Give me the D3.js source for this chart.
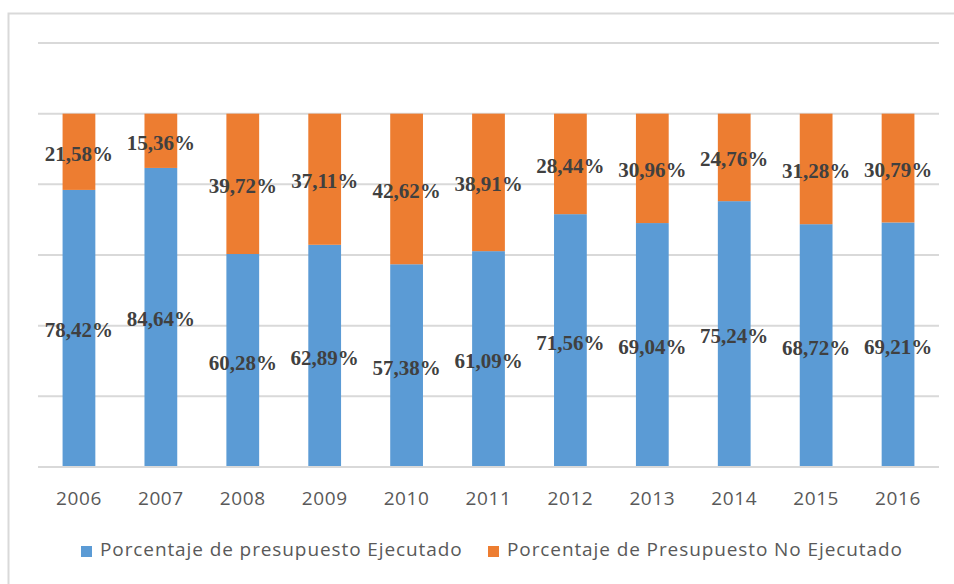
<html>
<head>
<style>
  body { margin: 0; background: #fff; }
</style>
</head>
<body>
    <svg id="container" width="954" height="584"></svg>
</body>
<script src="https://cdn.jsdelivr.net/npm/d3@7"></script>
<script>
    let years = ["2006", "2007", "2008", "2009", "2010", "2011", "2012", "2013", "2014", "2015", "2016"]
    let ejecutado = [78.42, 84.64, 60.28, 62.89, 57.38, 61.09, 71.56, 69.04, 75.24, 68.72, 69.21]
    let noEjecutado = [21.58, 15.36, 39.72, 37.11, 42.62, 38.91, 28.44, 30.96, 24.76, 31.28, 30.79]
    let gridTicks = [0, 20, 40, 60, 80, 100, 120]
    let seriesNames = ["Porcentaje de presupuesto Ejecutado", "Porcentaje de Presupuesto No Ejecutado"]
    let colors = ["#5B9BD5", "#ED7D31"]

    let svg = d3.select("#container")

    // chart frame
    svg.append("rect")
        .attr("x", 8.5).attr("y", 13.5)
        .attr("width", 960).attr("height", 600)
        .attr("fill", "none")
        .attr("stroke", "#d9d9d9")
        .attr("stroke-width", 2)

    let x = d3.scaleBand()
        .domain(years)
        .range([38, 939])
        .paddingInner(0.6)
        .paddingOuter(0.3)

    let y = d3.scaleLinear()
        .domain([0, 120])
        .range([467, 43])

    // grid
    svg.append("g")
        .selectAll("line")
        .data(gridTicks)
        .enter()
        .append("line")
        .attr("x1", 38).attr("x2", 939)
        .attr("y1", d => y(d)).attr("y2", d => y(d))
        .attr("stroke", "#d9d9d9")
        .attr("stroke-width", 2)

    let rows = years.map((yr, i) => ({ year: yr, a: ejecutado[i], b: noEjecutado[i] }))
    let stacked = d3.stack().keys(["a", "b"])(rows)

    let groups = svg.append("g")
        .selectAll("g")
        .data(stacked)
        .enter()
        .append("g")
        .attr("fill", (d, i) => colors[i])

    groups.selectAll("rect")
        .data(d => d)
        .enter()
        .append("rect")
        .attr("x", d => x(d.data.year))
        .attr("y", d => y(d[1]))
        .attr("width", x.bandwidth())
        .attr("height", d => y(d[0]) - y(d[1]))

    // baseline
    svg.append("line")
        .attr("x1", 38).attr("x2", 939)
        .attr("y1", y(0)).attr("y2", y(0))
        .attr("stroke", "#d9d9d9")
        .attr("stroke-width", 2)

    // data labels
    let fmt = v => v.toFixed(2).replace(".", ",") + "%"
    svg.append("g")
        .selectAll("g")
        .data(stacked)
        .enter()
        .append("g")
        .selectAll("text")
        .data(d => d)
        .enter()
        .append("text")
        .attr("x", d => x(d.data.year) + x.bandwidth() / 2)
        .attr("y", d => (y(d[0]) + y(d[1])) / 2 + 9)
        .attr("text-anchor", "middle")
        .attr("font-family", "Liberation Serif")
        .attr("font-weight", "bold")
        .attr("font-size", 21)
        .attr("fill", "#404040")
        .text(d => fmt(d[1] - d[0]))

    // x axis labels
    svg.append("g")
        .selectAll("text")
        .data(years)
        .enter()
        .append("text")
        .attr("x", d => x(d) + x.bandwidth() / 2)
        .attr("y", 505)
        .attr("text-anchor", "middle")
        .attr("font-family", "Open Sans")
        .attr("font-size", 19)
        .attr("letter-spacing", 0.6)
        .attr("fill", "#595959")
        .text(d => d)

    // legend
    let legendX = [81, 488]
    let legend = svg.append("g")
        .selectAll("g")
        .data(seriesNames)
        .enter()
        .append("g")
        .attr("transform", (d, i) => `translate(${legendX[i]}, 556)`)

    legend.append("rect")
        .attr("x", 0).attr("y", -10)
        .attr("width", 11).attr("height", 11)
        .attr("fill", (d, i) => colors[i])

    legend.append("text")
        .attr("x", 19)
        .attr("y", 0)
        .attr("font-family", "Open Sans")
        .attr("font-size", 19)
        .attr("letter-spacing", 0.9)
        .attr("fill", "#595959")
        .text(d => d)
</script>
</html>
